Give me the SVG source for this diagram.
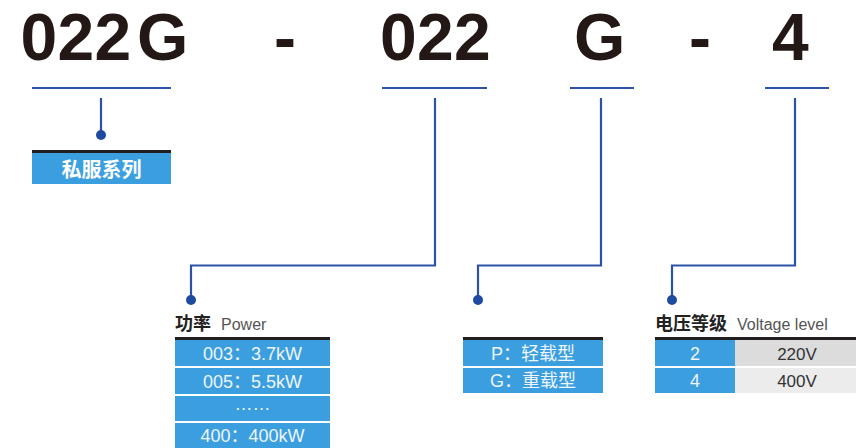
<svg xmlns="http://www.w3.org/2000/svg" width="856" height="448" viewBox="0 0 856 448">
<style>
.big{font-family:"Liberation Sans",Arial,sans-serif;font-weight:bold;font-size:66px;fill:#231815}
.ln{stroke:#2b52a6;stroke-width:2.2;fill:none}
.dot{fill:#1e4aa0}
.blue{fill:#3b9fdf}
.top{fill:#231f20}
.cell{font-family:"Liberation Sans","Noto Sans CJK SC",sans-serif;font-size:18px;fill:#eef5fc;text-anchor:middle}
.val{font-family:"Liberation Sans",sans-serif;font-size:17px;fill:#333;text-anchor:middle}
.hd{font-family:"Noto Sans CJK SC",sans-serif;font-weight:bold;font-size:18px;fill:#222}
.en{font-family:"Liberation Sans",sans-serif;font-size:16px;fill:#555}
</style>
<rect width="856" height="448" fill="#fff"/>
<g id="code">
<text class="big" x="20.5 57.5 94.5 137" y="60">022G</text>
<text class="big" x="274" y="60">-</text>
<text class="big" x="380 417 454" y="60">022</text>
<text class="big" x="574" y="60">G</text>
<text class="big" x="689" y="60">-</text>
<text class="big" x="772" y="60">4</text>
</g>
<g id="connectors">
<line class="ln" x1="32" y1="88" x2="171" y2="88"/>
<line class="ln" x1="382" y1="88" x2="487" y2="88"/>
<line class="ln" x1="570" y1="88" x2="634" y2="88"/>
<line class="ln" x1="765" y1="88" x2="829" y2="88"/>
<polyline class="ln" points="101,98 101,135"/>
<polyline class="ln" points="435,98 435,265.5 191,265.5 191,300"/>
<polyline class="ln" points="601,98 601,265.5 478,265.5 478,300"/>
<polyline class="ln" points="795,98 795,265.5 672,265.5 672,300"/>
<circle class="dot" cx="101" cy="135" r="5"/>
<circle class="dot" cx="191" cy="300" r="5"/>
<circle class="dot" cx="478" cy="300" r="5"/>
<circle class="dot" cx="672" cy="300" r="5"/>
</g>
<g id="series">
<rect class="top" x="32" y="150" width="139" height="3"/>
<rect class="blue" x="32" y="153" width="139" height="31"/>
<text x="101.5" y="177" font-family="'Noto Sans CJK SC',sans-serif" font-weight="bold" font-size="20" fill="#fff" text-anchor="middle">私服系列</text>
</g>
<g id="power">
<text class="hd" x="175" y="330">功率</text>
<text class="en" x="221" y="330">Power</text>
<rect class="top" x="175" y="337" width="155" height="3"/>
<rect class="blue" x="175" y="340" width="155" height="26"/>
<rect class="blue" x="175" y="368" width="155" height="26"/>
<rect class="blue" x="175" y="396" width="155" height="25"/>
<rect class="blue" x="175" y="423" width="155" height="25"/>
<text class="cell" x="252.5" y="360">003：3.7kW</text>
<text class="cell" x="252.5" y="388">005：5.5kW</text>
<text class="cell" x="252.5" y="410" font-size="11">……</text>
<text class="cell" x="252.5" y="442">400：400kW</text>
</g>
<g id="type">
<rect class="top" x="463" y="337" width="140" height="3"/>
<rect class="blue" x="463" y="340" width="140" height="26"/>
<rect class="blue" x="463" y="368" width="140" height="25"/>
<text class="cell" x="533" y="360">P：轻载型</text>
<text class="cell" x="533" y="387">G：重载型</text>
</g>
<g id="voltage">
<text class="hd" x="655" y="330">电压等级</text>
<text class="en" x="737" y="330">Voltage level</text>
<rect class="top" x="655" y="337" width="201" height="3"/>
<rect class="blue" x="655" y="340" width="80" height="26"/>
<rect x="735" y="340" width="121" height="26" fill="#dcdcdc"/>
<rect class="blue" x="655" y="368" width="80" height="25"/>
<rect x="735" y="368" width="121" height="25" fill="#ececec"/>
<text class="cell" x="695" y="360">2</text>
<text class="val" x="797" y="360">220V</text>
<text class="cell" x="695" y="387">4</text>
<text class="val" x="797" y="387">400V</text>
</g>
</svg>
